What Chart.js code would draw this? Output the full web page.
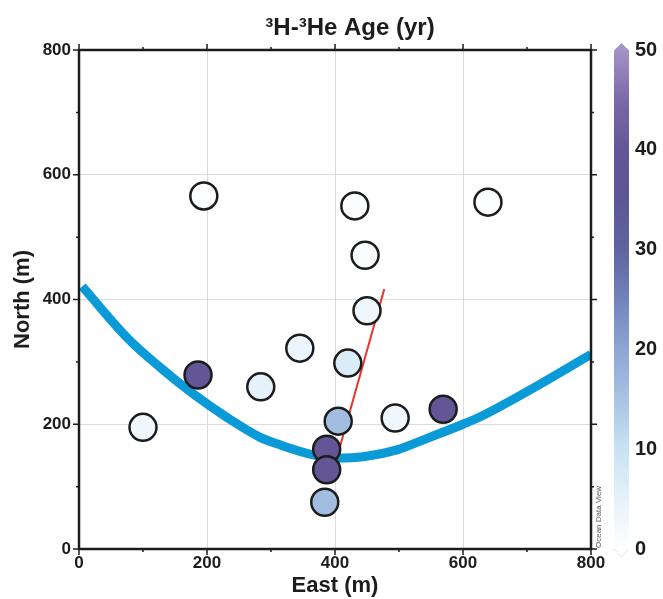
<!DOCTYPE html>
<html>
<head>
<meta charset="utf-8">
<script src="https://cdn.jsdelivr.net/npm/chart.js@4.4.1/dist/chart.umd.min.js"></script>
<style>
  html, body { margin: 0; padding: 0; background: #fff; }
  #wrap { width: 663px; height: 599px; }
</style>
</head>
<body>
<div id="wrap"><canvas id="ageChart" width="663" height="599"></canvas></div>
<script>
// Muestras: posicion (m) y edad 3H-3He (anos)
const east  = [100, 195, 186, 284, 345, 431, 447, 450, 420, 405, 494, 569, 639, 387, 387, 384];
const north = [195, 566, 279, 260, 322, 550, 471, 382, 298, 205, 210, 224, 556, 160, 127, 75];
const ages  = [3, 0.5, 40, 5, 4, 1, 1, 3, 7, 16, 3, 40, 0.5, 40, 40, 16];

// Curva azul
const curveEast  = [5, 75, 127, 178, 231, 283, 314, 366, 403, 444, 497, 548, 600, 627, 720, 800];
const curveNorth = [421, 339, 291, 249, 211, 179, 167, 151, 146, 148, 159, 179, 200, 212, 264, 312];

// Linea roja
const lineEast  = [477, 402];
const lineNorth = [417, 143];

// Etiquetas de los ejes
const axisTicks  = [0, 200, 400, 600, 800];
const minorTicks = [100, 300, 500, 700];
const ageTicks   = [0, 10, 20, 30, 40, 50];

// Escala de color para la edad
const paleta = [
    [0,  [255, 255, 255]],
    [5,  [230, 242, 250]],
    [10, [201, 226, 243]],
    [15, [168, 195, 228]],
    [20, [142, 166, 211]],
    [25, [114, 131, 187]],
    [30, [96, 100, 159]],
    [35, [93, 86, 148]],
    [40, [99, 86, 150]],
    [45, [123, 105, 168]],
    [50, [164, 147, 198]]
];

function colorEdad(v) {
    for (let i = 1; i < paleta.length; i++) {
        const [v1, c1] = paleta[i];
        const [v0, c0] = paleta[i - 1];
        if (v <= v1) {
            const t = (v - v0) / (v1 - v0);
            const c = c0.map((a, k) => Math.round(a + (c1[k] - a) * t));
            return 'rgb(' + c.join(',') + ')';
        }
    }
    return 'rgb(' + paleta[paleta.length - 1][1].join(',') + ')';
}

const fuente = '"Liberation Sans", Arial, sans-serif';
const negro = '#1c1c1c';

// Marco, marcas, barra de color y titulo
const marco = {
    id: 'marco',
    afterDatasetsDraw(chart) {
        const { ctx, chartArea: a, scales } = chart;
        const sx = scales.x, sy = scales.y, cb = scales.cb;
        ctx.save();

        // marcas mayores y menores en los cuatro lados
        ctx.strokeStyle = negro;
        ctx.lineWidth = 1.5;
        ctx.beginPath();
        const marcas = (v, largo) => {
            const px = sx.getPixelForValue(v);
            const py = sy.getPixelForValue(v);
            ctx.moveTo(px, a.bottom); ctx.lineTo(px, a.bottom + largo);
            ctx.moveTo(px, a.top); ctx.lineTo(px, a.top - largo);
            ctx.moveTo(a.left, py); ctx.lineTo(a.left - largo, py);
            ctx.moveTo(a.right, py); ctx.lineTo(a.right + largo, py);
        };
        axisTicks.forEach(v => marcas(v, 6));
        minorTicks.forEach(v => marcas(v, 3));
        ctx.stroke();

        // marco
        ctx.lineWidth = 2.5;
        ctx.strokeRect(a.left, a.top, a.right - a.left, a.bottom - a.top);

        // barra de color
        const x0 = 614, x1 = 629;
        const yTop = cb.getPixelForValue(50), yBot = cb.getPixelForValue(0);
        const grad = ctx.createLinearGradient(0, yBot, 0, yTop);
        paleta.forEach(([v]) => grad.addColorStop(v / 50, colorEdad(v)));
        ctx.fillStyle = grad;
        ctx.fillRect(x0, yTop, x1 - x0, yBot - yTop);
        ctx.beginPath();
        ctx.moveTo(x0, yTop + 0.5); ctx.lineTo((x0 + x1) / 2, yTop - 7); ctx.lineTo(x1, yTop + 0.5);
        ctx.closePath();
        ctx.fillStyle = colorEdad(50);
        ctx.fill();
        ctx.beginPath();
        ctx.moveTo(x0, yBot); ctx.lineTo((x0 + x1) / 2, yBot + 8); ctx.lineTo(x1, yBot);
        ctx.fillStyle = '#fff';
        ctx.fill();
        ctx.strokeStyle = '#e4e4e4';
        ctx.lineWidth = 1;
        ctx.stroke();

        // titulo
        ctx.fillStyle = negro;
        ctx.font = 'bold 24px ' + fuente;
        ctx.textAlign = 'center';
        ctx.textBaseline = 'middle';
        ctx.fillText('\u00B3H-\u00B3He Age (yr)', 350, 28);

        // firma ODV
        ctx.translate(a.right + 8, a.bottom - 1);
        ctx.rotate(-Math.PI / 2);
        ctx.font = '8px ' + fuente;
        ctx.fillStyle = '#555';
        ctx.textAlign = 'left';
        ctx.fillText('Ocean Data View', 0, 0);
        ctx.restore();
    }
};

const gridColor = c => (c.tick && (c.tick.value === 0 || c.tick.value === 800)) ? 'rgba(0,0,0,0)' : '#dcdcdc';

const ctx = document.getElementById('ageChart').getContext('2d');
const ageChart = new Chart(ctx, {
    data: {
        datasets: [{
            type: 'scatter',
            data: east.map((e, i) => ({ x: e, y: north[i] })),
            backgroundColor: ages.map(colorEdad),
            borderColor: negro,
            borderWidth: 2.5,
            pointRadius: 13.5,
            pointHoverRadius: 13.5,
            order: 0
        }, {
            type: 'line',
            data: lineEast.map((e, i) => ({ x: e, y: lineNorth[i] })),
            borderColor: '#e8342a',
            borderWidth: 2,
            pointRadius: 0,
            order: 1
        }, {
            type: 'line',
            data: curveEast.map((e, i) => ({ x: e, y: curveNorth[i] })),
            borderColor: '#0a9ad8',
            borderWidth: 9,
            pointRadius: 0,
            cubicInterpolationMode: 'monotone',
            order: 2
        }]
    },
    options: {
        responsive: false,
        animation: false,
        devicePixelRatio: 1,
        layout: { autoPadding: false, padding: { top: 50, right: 0, bottom: 0, left: 0 } },
        plugins: { legend: { display: false }, tooltip: { enabled: false } },
        scales: {
            x: {
                type: 'linear', min: 0, max: 800,
                afterBuildTicks: s => { s.ticks = axisTicks.map(v => ({ value: v })); },
                afterFit: s => { s.height = 50; },
                grid: { color: gridColor, drawTicks: false },
                border: { display: false },
                ticks: { color: negro, padding: 4, maxRotation: 0, font: { family: fuente, size: 17, weight: 'bold' } },
                title: { display: true, text: 'East (m)', color: negro, padding: { top: 0, bottom: 0 },
                         font: { family: fuente, size: 22, weight: 'bold' } }
            },
            y: {
                type: 'linear', min: 0, max: 800,
                afterBuildTicks: s => { s.ticks = axisTicks.map(v => ({ value: v })); },
                afterFit: s => { s.width = 79; },
                grid: { color: gridColor, drawTicks: false },
                border: { display: false },
                ticks: { color: negro, padding: 8, font: { family: fuente, size: 17, weight: 'bold' } },
                title: { display: true, text: 'North (m)', color: negro, padding: { top: 10, bottom: 0 },
                         font: { family: fuente, size: 22, weight: 'bold' } }
            },
            cb: {
                type: 'linear', position: 'right', min: 0, max: 50,
                afterBuildTicks: s => { s.ticks = ageTicks.map(v => ({ value: v })); },
                afterFit: s => { s.width = 72; },
                // el hueco de la barra lo da tickLength, no el padding
                grid: { display: true, drawOnChartArea: false, drawTicks: true, tickLength: 41, color: 'rgba(0,0,0,0)' },
                border: { display: false },
                ticks: { color: negro, padding: 3, font: { family: fuente, size: 20, weight: 'bold' } }
            }
        }
    },
    plugins: [marco]
});
</script>
</body>
</html>
